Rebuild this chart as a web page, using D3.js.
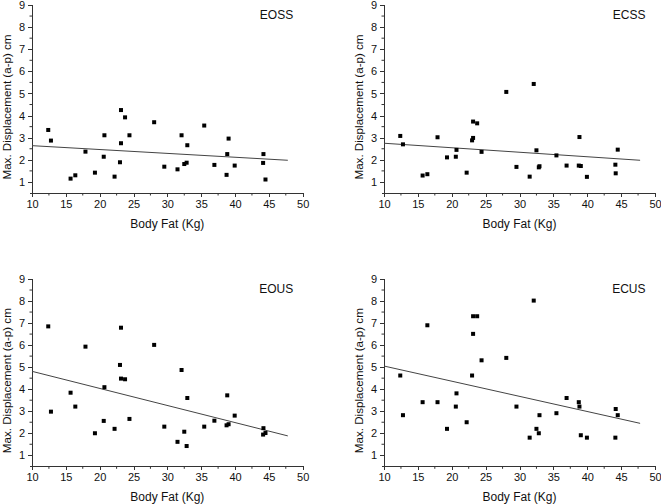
<!DOCTYPE html>
<html><head><meta charset="utf-8">
<script src="https://cdn.jsdelivr.net/npm/d3@7"></script>
<style>
body{margin:0;background:#fff;}
text{font-family:"Liberation Sans",Arial,sans-serif;fill:#111;}
</style></head>
<body><svg id="c" width="661" height="504"></svg>
<script>
// Shared x values (body fat, kg)
const bodyFat = [12.4,12.8,15.7,16.4,17.9,19.3,20.6,20.7,22.2,23.0,23.15,23.15,23.75,24.4,28.05,29.55,31.5,32.1,32.5,32.85,32.95,35.45,36.95,38.75,38.85,39.05,39.95,44.15,44.2,44.5];
// Max displacement per condition (same order as bodyFat)
const eoss = [3.35,2.87,1.15,1.30,2.37,1.42,2.14,3.11,1.24,1.89,4.25,2.75,3.92,3.11,3.70,1.69,1.57,3.11,1.81,1.87,2.66,3.55,1.77,1.32,2.26,2.96,1.74,1.86,2.26,1.11];
const ecss = [3.08,2.70,1.29,1.35,3.02,2.11,2.14,2.45,1.42,2.88,2.99,3.73,3.65,2.36,5.07,1.68,1.24,5.43,2.43,1.66,1.71,2.20,1.74,1.74,3.03,1.72,1.23,1.78,1.39,2.46];
const eous = [6.85,2.98,3.84,3.21,5.93,2.00,2.56,4.09,2.20,5.10,6.79,4.48,4.45,2.65,6.01,2.30,1.61,4.87,2.07,1.42,3.60,2.30,2.57,2.36,3.72,2.41,2.80,1.94,2.23,2.01];
const ecus = [4.62,2.82,3.41,6.90,3.41,2.20,3.21,3.81,2.50,4.62,6.51,7.31,7.31,5.31,5.42,3.21,1.80,8.02,2.20,2.00,2.82,2.91,3.60,3.41,3.21,1.91,1.80,1.80,3.10,2.82];
// Fitted line end values [at x=10, at x=47.8]
const fitX = [10, 47.8];
const fitEOSS = [2.64, 1.98];
const fitECSS = [2.75, 1.98];
const fitEOUS = [4.81, 1.88];
const fitECUS = [5.05, 2.45];
const panelNames = ["EOSS","ECSS","EOUS","ECUS"];
const xTicks = [10,15,20,25,30,35,40,45,50];
const yTicks = [1,2,3,4,5,6,7,8,9];

const panels = [
  {name:panelNames[0], ys:eoss, fit:fitEOSS, x0:32, x1:302.7, yTop:5, yBot:193},
  {name:panelNames[1], ys:ecss, fit:fitECSS, x0:384, x1:655, yTop:5, yBot:193},
  {name:panelNames[2], ys:eous, fit:fitEOUS, x0:32, x1:302.7, yTop:279, yBot:466.3},
  {name:panelNames[3], ys:ecus, fit:fitECUS, x0:384, x1:655, yTop:279, yBot:466.3}
];
const svg = d3.select("#c");
const axisColor = "#333";

panels.forEach(p => {
  const g = svg.append("g");
  const x = d3.scaleLinear().domain([10,50]).range([p.x0,p.x1]);
  const y = d3.scaleLinear().domain([0.5,9]).range([p.yBot,p.yTop]);

  // minor ticks
  const minorX = d3.range(12.5,50,5);
  const minorY = d3.range(1.5,9,1);
  g.selectAll(".mx").data(minorX).enter().append("line")
    .attr("x1",d=>x(d)).attr("x2",d=>x(d)).attr("y1",p.yBot).attr("y2",p.yBot+2.5)
    .attr("stroke",axisColor).attr("stroke-width",1);
  g.selectAll(".my").data(minorY).enter().append("line")
    .attr("x1",p.x0-2.5).attr("x2",p.x0).attr("y1",d=>y(d)).attr("y2",d=>y(d))
    .attr("stroke",axisColor).attr("stroke-width",1);

  const xa = g.append("g").attr("transform",`translate(0,${p.yBot})`)
    .call(d3.axisBottom(x).tickValues(xTicks).tickSize(4).tickSizeOuter(0).tickPadding(3));
  const ya = g.append("g").attr("transform",`translate(${p.x0},0)`)
    .call(d3.axisLeft(y).tickValues(yTicks).tickSize(4).tickSizeOuter(0).tickPadding(3));
  [xa,ya].forEach(a=>{
    a.selectAll("path,line").attr("stroke",axisColor).attr("shape-rendering","crispEdges");
    a.selectAll("text").style("font-size","11px").style("font-family","'Liberation Sans',Arial,sans-serif").attr("fill","#111");
  });
  ya.select(".domain").attr("d",`M0.5,${p.yBot}V${p.yTop}`);
  xa.select(".domain").attr("d",`M${p.x0-2},0.5H${p.x1}`);

  // titles
  g.append("text").attr("x",(p.x0+p.x1)/2).attr("y",p.yBot+35)
    .attr("text-anchor","middle").style("font-size","12px").text("Body Fat (Kg)");
  g.append("text").attr("transform",`translate(${p.x0-21},${(p.yTop+p.yBot)/2+8}) rotate(-90)`)
    .attr("text-anchor","middle").style("font-size","11.6px").text("Max. Displacement (a-p) cm");
  g.append("text").attr("x",p.x1-9.5).attr("y",p.yTop+13.5)
    .attr("text-anchor","end").style("font-size","12px").text(p.name);

  // fit line
  g.append("line").attr("x1",x(fitX[0])).attr("y1",y(p.fit[0]))
    .attr("x2",x(fitX[1])).attr("y2",y(p.fit[1]))
    .attr("stroke","#444").attr("stroke-width",1);

  // points
  g.selectAll(".pt").data(bodyFat.map((b,i)=>[b,p.ys[i]])).enter().append("rect")
    .attr("x",d=>x(d[0])-2).attr("y",d=>y(d[1])-2).attr("width",4).attr("height",4)
    .attr("fill","#000");
});
</script></body></html>
